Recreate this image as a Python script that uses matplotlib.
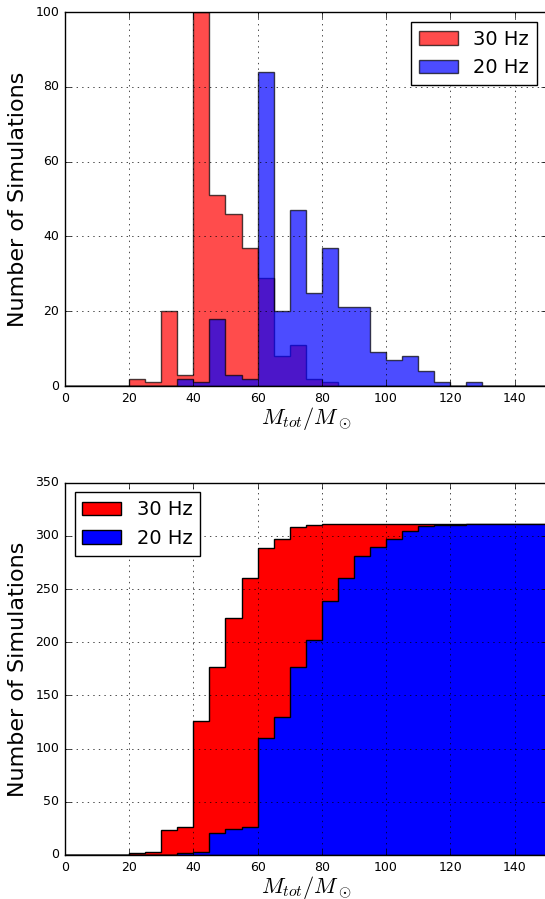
import matplotlib
matplotlib.use('Agg')
import matplotlib.pyplot as plt
import numpy as np

plt.style.use('classic')
plt.rcParams['mathtext.fontset'] = 'cm'

bin_edges = np.arange(0, 155, 5)
bin_centers = bin_edges[:-1] + 2.5

# counts per 5-solar-mass bin, starting at 0
counts_30hz = [0, 0, 0, 0, 2, 1, 20, 3, 100, 51, 46, 37, 29, 8, 11, 2, 1,
               0, 0, 0, 0, 0, 0, 0, 0, 0, 0, 0, 0, 0]
counts_20hz = [0, 0, 0, 0, 0, 0, 0, 2, 1, 18, 3, 2, 84, 20, 47, 25, 37,
               21, 21, 9, 7, 8, 4, 1, 0, 1, 0, 0, 0, 0]

labels = ['30 Hz', '20 Hz']
xlabel = r'$M_{tot}/M_\odot$'
ylabel = 'Number of Simulations'

fig = plt.figure(figsize=(5.45, 8.99), dpi=100)
fig.patch.set_facecolor('white')

ax1 = fig.add_axes([0.119, 0.5706, 0.884, 0.416])
ax1.hist(bin_centers, bins=bin_edges, weights=counts_30hz, histtype='stepfilled',
         color='red', alpha=0.7, label=labels[0])
ax1.hist(bin_centers, bins=bin_edges, weights=counts_20hz, histtype='stepfilled',
         color='blue', alpha=0.7, label=labels[1])
ax1.set_xlim(0, 150)
ax1.set_ylim(0, 100)
ax1.grid(True)
ax1.legend(loc='upper right', fontsize=14)
ax1.set_xlabel(xlabel, fontsize=16, labelpad=0)
ax1.set_ylabel(ylabel, fontsize=16)
ax1.tick_params(labelsize=9)

ax2 = fig.add_axes([0.119, 0.049, 0.884, 0.414])
ax2.hist(bin_centers, bins=bin_edges, weights=counts_30hz, histtype='stepfilled',
         color='red', cumulative=True, label=labels[0])
ax2.hist(bin_centers, bins=bin_edges, weights=counts_20hz, histtype='stepfilled',
         color='blue', cumulative=True, label=labels[1])
ax2.set_xlim(0, 150)
ax2.set_ylim(0, 350)
ax2.grid(True)
ax2.legend(loc='upper left', fontsize=14)
ax2.set_xlabel(xlabel, fontsize=16, labelpad=0)
ax2.set_ylabel(ylabel, fontsize=16)
ax2.tick_params(labelsize=9)

plt.savefig('out.png', dpi=100, facecolor='white')
